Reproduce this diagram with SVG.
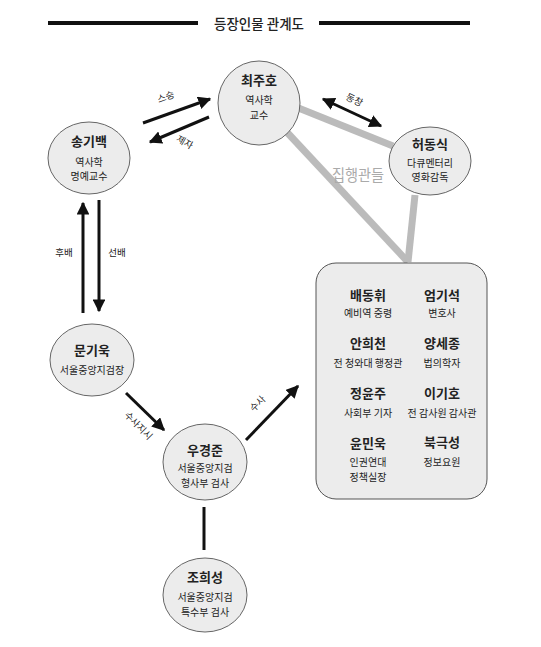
<svg xmlns="http://www.w3.org/2000/svg" width="541" height="647" viewBox="0 0 541 647">
<defs>
<marker id="ah" viewBox="0 0 10 10" refX="9" refY="5" markerWidth="4.3" markerHeight="4.3" orient="auto-start-reverse" markerUnits="strokeWidth">
<path d="M0,0 L10,5 L0,10 z" fill="#111"/>
</marker>
<style>
text{font-family:"Noto Sans CJK KR","Noto Sans",sans-serif;fill:#222;text-anchor:middle}
.nm{font-size:13px;font-weight:bold}
.sb{font-size:10px}
.lb{font-size:9.5px}
.nd{fill:#ececec;stroke:#666;stroke-width:1}
.ar{stroke:#111;stroke-width:3;fill:none}
.gr{stroke:#bbb;stroke-width:7;fill:none}
</style>
</defs>
<rect width="541" height="647" fill="#fff"/>
<g id="title">
<line x1="48" y1="23" x2="198" y2="23" stroke="#111" stroke-width="4"/>
<line x1="319" y1="23" x2="470" y2="23" stroke="#111" stroke-width="4"/>
<text x="259" y="29" style="font-size:13.5px;font-weight:500">등장인물 관계도</text>
</g>
<g id="connectors">
<line class="gr" x1="296" y1="107" x2="393" y2="146"/>
<line class="gr" x1="283" y1="128" x2="408" y2="262"/>
<line class="gr" x1="415" y1="195" x2="408" y2="262"/>
<line class="ar" x1="143" y1="123" x2="210" y2="99" marker-end="url(#ah)"/>
<line class="ar" x1="209" y1="117" x2="150" y2="142" marker-end="url(#ah)"/>
<line class="ar" x1="323" y1="99" x2="381" y2="126" marker-start="url(#ah)" marker-end="url(#ah)"/>
<line class="ar" x1="83" y1="313" x2="83" y2="203" marker-end="url(#ah)"/>
<line class="ar" x1="99" y1="200" x2="99" y2="311" marker-end="url(#ah)"/>
<line class="ar" x1="126" y1="393" x2="164" y2="430" marker-end="url(#ah)"/>
<line class="ar" x1="246" y1="440" x2="298" y2="386" marker-end="url(#ah)"/>
<line x1="204" y1="507" x2="204" y2="550" stroke="#111" stroke-width="3"/>
<text class="lb" transform="translate(167,100) rotate(-20)">스승</text>
<text class="lb" transform="translate(183,145) rotate(30)">제자</text>
<text class="lb" transform="translate(353,103) rotate(25)">동창</text>
<text class="lb" x="64" y="256">후배</text>
<text class="lb" x="117" y="256">선배</text>
<text class="lb" transform="translate(136,428) rotate(45)">수사지시</text>
<text class="lb" transform="translate(260,406) rotate(-45)">수사</text>
<text x="358" y="181" textLength="52" lengthAdjust="spacingAndGlyphs" style="font-size:16px;fill:#aaa">집행관들</text>
</g>
<g id="n-choi">
<ellipse class="nd" cx="259" cy="103" rx="41" ry="42"/>
<text class="nm" x="259" y="85">최주호</text>
<text class="sb" x="259" y="104">역사학</text>
<text class="sb" x="259" y="119">교수</text>
</g>
<g id="n-song">
<ellipse class="nd" cx="89" cy="158" rx="41" ry="36"/>
<text class="nm" x="89" y="146">송기백</text>
<text class="sb" x="89" y="166">역사학</text>
<text class="sb" x="89" y="180">명예교수</text>
</g>
<g id="n-heo">
<ellipse class="nd" cx="430" cy="161" rx="41" ry="34"/>
<text class="nm" x="430" y="149">허동식</text>
<text class="sb" x="430" y="167">다큐멘터리</text>
<text class="sb" x="430" y="181">영화감독</text>
</g>
<g id="n-moon">
<ellipse class="nd" cx="92" cy="360" rx="42" ry="36"/>
<text class="nm" x="92" y="355">문기욱</text>
<text class="sb" x="92" y="374">서울중앙지검장</text>
</g>
<g id="n-woo">
<ellipse class="nd" cx="205" cy="462" rx="42" ry="38"/>
<text class="nm" x="205" y="455">우경준</text>
<text class="sb" x="205" y="472">서울중앙지검</text>
<text class="sb" x="205" y="487">형사부 검사</text>
</g>
<g id="n-jo">
<ellipse class="nd" cx="205" cy="595" rx="42" ry="37"/>
<text class="nm" x="205" y="582">조희성</text>
<text class="sb" x="205" y="601">서울중앙지검</text>
<text class="sb" x="205" y="616">특수부 검사</text>
</g>
<g id="n-group">
<rect x="316" y="263" width="171" height="236" rx="20" ry="20" fill="#ececec" stroke="#555" stroke-width="1"/>
<text class="nm" x="368" y="300">배동휘</text>
<text class="sb" x="368" y="317">예비역 중령</text>
<text class="nm" x="442" y="300">엄기석</text>
<text class="sb" x="442" y="317">변호사</text>
<text class="nm" x="368" y="348">안희천</text>
<text class="sb" x="368" y="367">전 청와대 행정관</text>
<text class="nm" x="442" y="348">양세종</text>
<text class="sb" x="442" y="367">법의학자</text>
<text class="nm" x="368" y="398">정윤주</text>
<text class="sb" x="368" y="417">사회부 기자</text>
<text class="nm" x="442" y="398">이기호</text>
<text class="sb" x="442" y="417">전 감사원 감사관</text>
<text class="nm" x="368" y="448">윤민욱</text>
<text class="sb" x="368" y="466">인권연대</text>
<text class="sb" x="368" y="481">정책실장</text>
<text class="nm" x="442" y="447">북극성</text>
<text class="sb" x="442" y="466">정보요원</text>
</g>
</svg>
